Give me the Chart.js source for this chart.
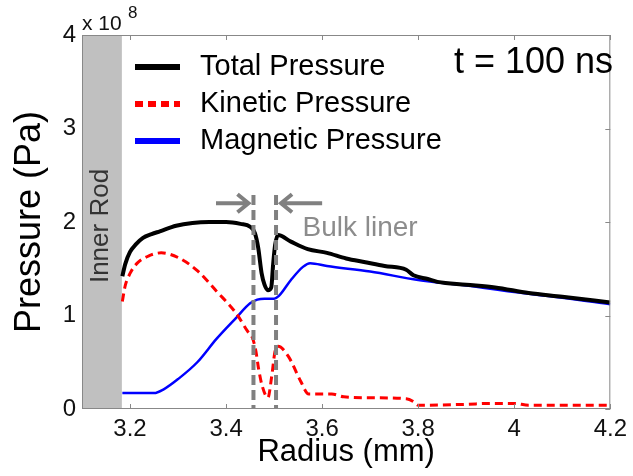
<!DOCTYPE html>
<html>
<head>
<meta charset="utf-8">
<script src="https://cdn.jsdelivr.net/npm/chart.js@4/dist/chart.umd.min.js"></script>
<style>
  html, body { margin: 0; padding: 0; background: #fff; }
  #wrap { width: 633px; height: 476px; }
</style>
</head>
<body>
<div id="wrap"><canvas id="c" width="633" height="476"></canvas></div>
<script>
// Radial pressure profiles at t = 100 ns (values in units of 1e8 Pa)
const totalRadius = [3.184, 3.19, 3.20, 3.212, 3.227, 3.245, 3.262, 3.296, 3.33, 3.365, 3.40, 3.43, 3.45, 3.46, 3.467, 3.474, 3.48, 3.487, 3.494, 3.498, 3.502, 3.508, 3.535, 3.57, 3.61, 3.65, 3.69, 3.73, 3.775, 3.79, 3.82, 3.84, 3.90, 3.96, 4.03, 4.10, 4.20];
const totalPressure = [1.42, 1.55, 1.68, 1.76, 1.83, 1.87, 1.90, 1.96, 1.99, 2.00, 2.00, 1.98, 1.95, 1.88, 1.72, 1.45, 1.33, 1.27, 1.30, 1.55, 1.75, 1.86, 1.79, 1.71, 1.67, 1.61, 1.57, 1.53, 1.49, 1.43, 1.39, 1.36, 1.33, 1.30, 1.24, 1.20, 1.14];

const kineticRadius = [3.184, 3.19, 3.20, 3.215, 3.24, 3.265, 3.30, 3.34, 3.38, 3.42, 3.445, 3.455, 3.462, 3.468, 3.475, 3.487, 3.495, 3.502, 3.508, 3.53, 3.555, 3.572, 3.60, 3.62, 3.645, 3.70, 3.775, 3.79, 3.80, 3.90, 3.95, 4.00, 4.03, 4.20];
const kineticPressure = [1.15, 1.32, 1.45, 1.56, 1.64, 1.67, 1.62, 1.48, 1.26, 1.03, 0.83, 0.76, 0.62, 0.42, 0.25, 0.12, 0.35, 0.62, 0.67, 0.56, 0.30, 0.16, 0.16, 0.16, 0.13, 0.12, 0.11, 0.08, 0.04, 0.05, 0.06, 0.06, 0.04, 0.04];

const magneticRadius = [3.184, 3.25, 3.27, 3.30, 3.34, 3.38, 3.42, 3.45, 3.465, 3.48, 3.50, 3.51, 3.535, 3.56, 3.575, 3.61, 3.70, 3.80, 3.90, 4.00, 4.10, 4.20];
const magneticPressure = [0.17, 0.17, 0.21, 0.32, 0.50, 0.75, 0.97, 1.13, 1.17, 1.18, 1.18, 1.21, 1.38, 1.52, 1.56, 1.53, 1.47, 1.38, 1.32, 1.25, 1.19, 1.12];

const seriesNames = ['Total Pressure', 'Kinetic Pressure', 'Magnetic Pressure'];
const xTicks = [3.2, 3.4, 3.6, 3.8, 4.0, 4.2];
const yTicks = [0, 1, 2, 3, 4];

// Region markers
const innerRodEdge = 3.183;
const linerEdges = [3.457, 3.504];

const FONT = '"Liberation Sans", Arial, Helvetica, sans-serif';

function pts(xs, ys) { return xs.map((x, i) => ({ x: x, y: ys[i] })); }

const annotations = {
  id: 'annotations',
  beforeDatasetsDraw(chart) {
    const { ctx, chartArea: a, scales: { x } } = chart;
    const x0 = x.getPixelForValue(x.min);
    const x1 = x.getPixelForValue(innerRodEdge);
    ctx.save();
    ctx.fillStyle = '#c0c0c0';
    ctx.fillRect(x0, a.top, x1 - x0, a.bottom - a.top);
    ctx.restore();
  },
  afterDatasetsDraw(chart) {
    const { ctx, chartArea: a, scales: { x, y } } = chart;
    ctx.save();

    // Bulk liner boundaries
    ctx.strokeStyle = '#808080';
    ctx.lineWidth = 4;
    ctx.setLineDash([10, 5]);
    linerEdges.forEach(r => {
      const px = x.getPixelForValue(r);
      ctx.beginPath();
      ctx.moveTo(px, y.getPixelForValue(2.29));
      ctx.lineTo(px, a.bottom);
      ctx.stroke();
    });
    ctx.setLineDash([]);

    // Arrows pointing at the liner edges
    const ay = y.getPixelForValue(2.2);
    function arrow(fromR, toPx) {
      const fx = x.getPixelForValue(fromR);
      const dir = Math.sign(toPx - fx);
      ctx.beginPath();
      ctx.moveTo(fx, ay);
      ctx.lineTo(toPx, ay);
      ctx.moveTo(toPx - dir * 11, ay - 9);
      ctx.lineTo(toPx, ay);
      ctx.lineTo(toPx - dir * 11, ay + 9);
      ctx.stroke();
    }
    ctx.lineWidth = 4;
    ctx.lineJoin = 'miter';
    arrow(3.379, x.getPixelForValue(linerEdges[0]) - 5);
    arrow(3.60, x.getPixelForValue(linerEdges[1]) + 5);

    ctx.fillStyle = '#8c8c8c';
    ctx.font = '28px ' + FONT;
    ctx.textAlign = 'left';
    ctx.textBaseline = 'middle';
    ctx.fillText('Bulk liner', x.getPixelForValue(3.559), 228);

    // Inner rod label
    ctx.save();
    ctx.translate(x.getPixelForValue(3.1) + 26, (a.top + a.bottom) / 2 + 4);
    ctx.rotate(-Math.PI / 2);
    ctx.fillStyle = '#333';
    ctx.font = '26px ' + FONT;
    ctx.textAlign = 'center';
    ctx.textBaseline = 'alphabetic';
    ctx.fillText('Inner Rod', 0, 0);
    ctx.restore();

    // Axes box and inward tick marks
    ctx.strokeStyle = '#888';
    ctx.lineWidth = 1;
    ctx.strokeRect(a.left + 0.5, a.top + 0.5, a.right - a.left - 1, a.bottom - a.top - 1);
    ctx.beginPath();
    xTicks.forEach(v => {
      const px = Math.round(x.getPixelForValue(v)) + 0.5;
      ctx.moveTo(px, a.bottom); ctx.lineTo(px, a.bottom - 5);
      ctx.moveTo(px, a.top); ctx.lineTo(px, a.top + 5);
    });
    yTicks.forEach(v => {
      const py = Math.round(y.getPixelForValue(v)) + 0.5;
      ctx.moveTo(a.right, py); ctx.lineTo(a.right - 5, py);
    });
    ctx.stroke();

    // Legend
    const ds = chart.data.datasets;
    const rows = [67, 104, 141];
    ds.forEach((d, i) => {
      ctx.strokeStyle = d.borderColor;
      ctx.lineWidth = 6;
      ctx.setLineDash(i === 1 ? [8, 5] : []);
      ctx.beginPath();
      ctx.moveTo(135, rows[i]);
      ctx.lineTo(180, rows[i]);
      ctx.stroke();
      ctx.setLineDash([]);
      ctx.fillStyle = '#000';
      ctx.font = '29px ' + FONT;
      ctx.textAlign = 'left';
      ctx.textBaseline = 'middle';
      ctx.fillText(d.label, 200, rows[i]);
    });

    // Time stamp
    ctx.font = '36px ' + FONT;
    ctx.textAlign = 'right';
    ctx.fillText('t = 100 ns', 613, 63);

    // Exponent of the pressure axis
    ctx.fillStyle = '#111';
    ctx.textAlign = 'left';
    ctx.textBaseline = 'alphabetic';
    ctx.font = '21px ' + FONT;
    ctx.fillText('x 10', 82, 30);
    ctx.font = '17px ' + FONT;
    ctx.fillText('8', 128, 18);

    ctx.restore();
  }
};

new Chart(document.getElementById('c'), {
  type: 'line',
  data: {
    datasets: [
      { label: seriesNames[0], data: pts(totalRadius, totalPressure), borderColor: '#000000', borderWidth: 4, cubicInterpolationMode: 'monotone' },
      { label: seriesNames[1], data: pts(kineticRadius, kineticPressure), borderColor: '#ff0000', borderWidth: 3, borderDash: [8, 5], cubicInterpolationMode: 'monotone' },
      { label: seriesNames[2], data: pts(magneticRadius, magneticPressure), borderColor: '#0000ff', borderWidth: 2.5, cubicInterpolationMode: 'monotone' }
    ]
  },
  options: {
    responsive: false,
    animation: false,
    elements: { point: { radius: 0 } },
    layout: { padding: { left: 0, right: 18, top: 35, bottom: 0 } },
    plugins: { legend: { display: false }, tooltip: { enabled: false } },
    scales: {
      x: {
        type: 'linear',
        min: 3.1,
        max: 4.2,
        afterBuildTicks: s => { s.ticks = xTicks.map(v => ({ value: v })); },
        afterFit: s => { s.height = 67; },
        grid: { display: false, drawTicks: false },
        border: { display: false },
        ticks: {
          autoSkip: false, maxRotation: 0, padding: 6, color: '#111',
          font: { family: FONT, size: 24 },
          callback: v => String(Math.round(v * 10) / 10)
        },
        title: { display: true, text: 'Radius (mm)', color: '#000', font: { family: FONT, size: 31 }, padding: { top: 0, bottom: 5 } }
      },
      y: {
        min: 0,
        max: 4,
        afterBuildTicks: s => { s.ticks = yTicks.map(v => ({ value: v })); },
        afterFit: s => { s.width = 82; },
        grid: { display: false, drawTicks: false },
        border: { display: false },
        ticks: { padding: 6, color: '#111', font: { family: FONT, size: 24 } },
        title: { display: true, text: 'Pressure (Pa)', color: '#000', font: { family: FONT, size: 36 }, padding: { top: 8, bottom: 0 } }
      }
    }
  },
  plugins: [annotations]
});
</script>
</body>
</html>
